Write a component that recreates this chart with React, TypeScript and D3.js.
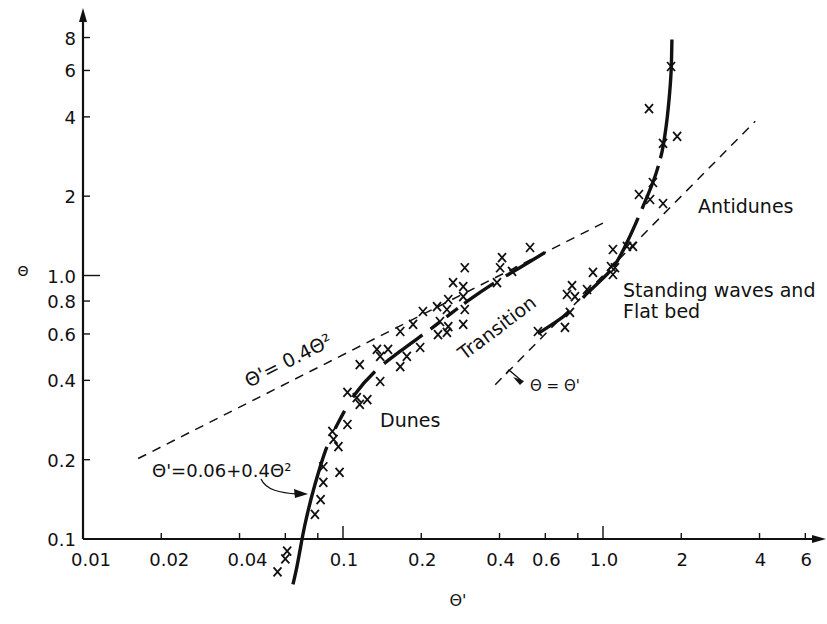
import React, { useEffect, useRef } from 'react';
import * as d3 from 'd3';

// observed bed-form data: Θ' (skin friction) vs Θ (total)
const obsThetaPrime = [
  0.056, 0.060, 0.061, 0.078, 0.082, 0.084, 0.097, 0.084, 0.091, 0.092,
  0.096, 0.104, 0.104, 0.113, 0.124, 0.116, 0.139, 0.116, 0.135, 0.149,
  0.139, 0.166, 0.176, 0.198, 0.166, 0.186, 0.203, 0.230, 0.254, 0.251,
  0.236, 0.254, 0.232, 0.251, 0.294, 0.290, 0.290, 0.290, 0.265, 0.294,
  0.391, 0.402, 0.409, 0.447, 0.524,
  0.562, 0.714, 0.746, 0.727, 0.780, 0.760, 0.868, 0.915, 1.092, 1.073,
  1.112, 1.092, 1.236, 1.303, 1.375, 1.517, 1.702, 1.556, 1.702, 1.928,
  1.503, 1.827,
];
const obsTheta = [
  0.075, 0.084, 0.090, 0.124, 0.141, 0.164, 0.179, 0.188, 0.256, 0.239,
  0.224, 0.272, 0.360, 0.344, 0.338, 0.324, 0.396, 0.459, 0.524, 0.524,
  0.493, 0.451, 0.493, 0.533, 0.613, 0.652, 0.730, 0.762, 0.811, 0.743,
  0.669, 0.640, 0.597, 0.608, 0.743, 0.652, 0.832, 0.908, 0.940, 1.07,
  0.940, 1.07, 1.17, 1.036, 1.277,
  0.613, 0.635, 0.724, 0.847, 0.832, 0.916, 0.885, 1.027, 1.255, 1.082,
  1.07, 1.009, 1.289, 1.289, 2.03, 1.943, 1.876, 2.254, 3.17, 3.37,
  4.30, 6.21,
];

// dunes curve Θ' = 0.06 + 0.4Θ²
const dunesThetaPrime = [0.0642, 0.0665, 0.0714, 0.078, 0.0868, 0.0973, 0.111, 0.1327, 0.1656, 0.216, 0.300, 0.395, 0.480, 0.598];
const dunesTheta = [0.0672, 0.0786, 0.1135, 0.161, 0.2244, 0.284, 0.3535, 0.432, 0.515, 0.624, 0.797, 0.957, 1.072, 1.223];

// flat bed / antidunes curve
const upperThetaPrime = [0.562, 0.746, 0.868, 1.092, 1.236, 1.425, 1.585, 1.687, 1.747, 1.795, 1.827, 1.841];
const upperTheta = [0.602, 0.730, 0.855, 1.072, 1.334, 1.827, 2.376, 2.955, 3.645, 4.655, 5.89, 7.86];

// dashed reference lines (end points)
const line04ThetaPrime = [0.0163, 1.05];
const line04Theta = [0.202, 1.62];
const lineEqThetaPrime = [0.385, 3.85];
const lineEqTheta = [0.385, 3.85];

const xTicks = [0.02, 0.04, 0.06, 0.08, 0.1, 0.2, 0.4, 0.6, 0.8, 1, 2, 4, 6];
const xLabelValues = [0.01, 0.02, 0.04, 0.1, 0.2, 0.4, 0.6, 1, 2, 4, 6];
const xLabelTexts = ['0.01', '0.02', '0.04', '0.1', '0.2', '0.4', '0.6', '1.0', '2', '4', '6'];
const yTicks = [0.2, 0.4, 0.6, 0.8, 1, 2, 4, 6, 8];
const yLabelValues = [0.1, 0.2, 0.4, 0.6, 0.8, 1, 2, 4, 6, 8];
const yLabelTexts = ['0.1', '0.2', '0.4', '0.6', '0.8', '1.0', '2', '4', '6', '8'];

const FONT = 'DejaVu Sans, sans-serif';
const INK = '#111';

const BedformChart = () => {
  const svgRef = useRef<SVGSVGElement>(null);

  useEffect(() => {
    if (!svgRef.current) return;
    d3.select(svgRef.current).selectAll('*').remove();

    const width = 827;
    const height = 624;
    const svg = d3.select(svgRef.current).attr('width', width).attr('height', height);

    const x = d3.scaleLog().domain([0.01, 10]).range([83, 863]);
    const y = d3.scaleLog().domain([0.1, 10]).range([539, 12]);
    const x0 = x(0.01);
    const y0 = y(0.1);

    // axes
    svg.append('line').attr('x1', x0).attr('y1', y0).attr('x2', 818).attr('y2', y0)
      .attr('stroke', INK).attr('stroke-width', 2.2);
    svg.append('line').attr('x1', x0).attr('y1', y0).attr('x2', x0).attr('y2', 18)
      .attr('stroke', INK).attr('stroke-width', 2.2);
    svg.append('path').attr('d', `M${x0},8 L${x0 - 4},22 L${x0 + 4},22 Z`).attr('fill', INK);
    svg.append('path').attr('d', `M826,${y0} L812,${y0 - 4} L812,${y0 + 4} Z`).attr('fill', INK);

    // x ticks
    svg.selectAll('.xtick').data(xTicks).enter().append('line')
      .attr('x1', d => x(d)).attr('x2', d => x(d))
      .attr('y1', y0).attr('y2', d => (d === 0.1 || d === 1 ? y0 - 13 : y0 - 6))
      .attr('stroke', INK).attr('stroke-width', 1.4);
    svg.selectAll('.xlab').data(xLabelValues).enter().append('text')
      .attr('x', d => x(d) + (d < 0.05 ? 8 : 1)).attr('y', 566)
      .attr('text-anchor', 'middle').attr('font-family', FONT).attr('font-size', 18)
      .attr('fill', INK)
      .text((d, i) => xLabelTexts[i]);

    // y ticks
    svg.selectAll('.ytick').data(yTicks).enter().append('line')
      .attr('y1', d => y(d)).attr('y2', d => y(d))
      .attr('x1', x0).attr('x2', d => (d === 1 ? x0 + 17 : x0 + 7))
      .attr('stroke', INK).attr('stroke-width', 1.4);
    svg.selectAll('.ylab').data(yLabelValues).enter().append('text')
      .attr('x', 76).attr('y', d => y(d) + 7)
      .attr('text-anchor', 'end').attr('font-family', FONT).attr('font-size', 18)
      .attr('fill', INK)
      .text((d, i) => yLabelTexts[i]);

    // axis titles
    svg.append('text').attr('x', 23).attr('y', 276).attr('text-anchor', 'middle')
      .attr('font-family', FONT).attr('font-size', 14).attr('fill', INK).text('Θ');
    svg.append('text').attr('x', 458).attr('y', 606).attr('text-anchor', 'middle')
      .attr('font-family', FONT).attr('font-size', 16).attr('fill', INK).text("Θ'");

    const line = d3.line<number[]>()
      .x(d => d[0])
      .y(d => d[1]);
    const toPts = (xs: number[], ys: number[]) => xs.map((v, i) => [x(v), y(ys[i])]);

    // dashed reference lines
    svg.append('path').attr('d', line(toPts(line04ThetaPrime, line04Theta)))
      .attr('fill', 'none').attr('stroke', INK).attr('stroke-width', 1.5).attr('stroke-dasharray', '9,7');
    svg.append('path').attr('d', line(toPts(lineEqThetaPrime, lineEqTheta)))
      .attr('fill', 'none').attr('stroke', INK).attr('stroke-width', 1.5).attr('stroke-dasharray', '9,7');

    // bold curves
    const curve = d3.line<number[]>().x(d => d[0]).y(d => d[1]).curve(d3.curveCatmullRom);
    svg.append('path').attr('d', curve(toPts(dunesThetaPrime, dunesTheta)))
      .attr('fill', 'none').attr('stroke', INK).attr('stroke-width', 3.4)
      .attr('stroke-dasharray', '142,20,20,16,34,12,48,10,12,8,14,8,36,14,200');
    svg.append('path').attr('d', curve(toPts(upperThetaPrime, upperTheta)))
      .attr('fill', 'none').attr('stroke', INK).attr('stroke-width', 3.4)
      .attr('stroke-dasharray', '38,20,38,6,54,10,46,8,200');

    // observations (x marks)
    const obs = obsThetaPrime.map((v, i) => [x(v), y(obsTheta[i])]);
    svg.selectAll('.obs').data(obs).enter().append('path')
      .attr('d', d => `M${d[0] - 4},${d[1] - 4.5} L${d[0] + 4},${d[1] + 4.5} M${d[0] + 4},${d[1] - 4.5} L${d[0] - 4},${d[1] + 4.5}`)
      .attr('stroke', INK).attr('stroke-width', 1.8).attr('fill', 'none');

    // annotations
    const label = (tx: number, ty: number, txt: string, size: number, rot = 0, anchor = 'start') =>
      svg.append('text').attr('x', tx).attr('y', ty)
        .attr('transform', rot ? `rotate(${rot},${tx},${ty})` : null)
        .attr('text-anchor', anchor).attr('font-family', FONT).attr('font-size', size)
        .attr('fill', INK).text(txt);

    label(249, 388, "Θ'= 0.4Θ²", 19, -27);
    label(152, 477, "Θ'=0.06+0.4Θ²", 18);
    label(380, 427, 'Dunes', 19);
    label(501, 333, 'Transition', 19, -37, 'middle');
    label(698, 213, 'Antidunes', 19);
    label(623, 297, 'Standing waves and', 19);
    label(623, 318, 'Flat bed', 19);
    label(530, 391, "Θ = Θ'", 15);

    // arrow to dunes curve
    svg.append('path').attr('d', 'M261,479 C266,490 280,493 298,494')
      .attr('fill', 'none').attr('stroke', INK).attr('stroke-width', 1.3);
    svg.append('path').attr('d', 'M308,494 L294,489 L295,498 Z').attr('fill', INK);
    // arrow to Θ = Θ' line
    svg.append('path').attr('d', 'M506,374 L509,370 L523,382')
      .attr('fill', 'none').attr('stroke', INK).attr('stroke-width', 1.4);
    svg.append('path').attr('d', 'M513,377 L524,381 L520,385 Z').attr('fill', INK);
  }, []);

  return <svg ref={svgRef} style={{ position: 'absolute', left: 0, top: 0, background: '#fff' }}></svg>;
};

export default function App() {
  return <BedformChart />;
}
